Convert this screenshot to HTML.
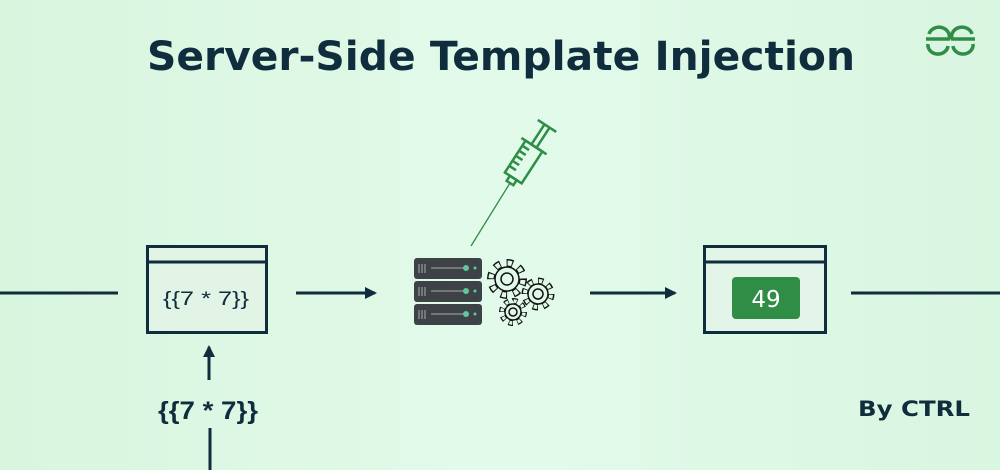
<!DOCTYPE html>
<html><head><meta charset="utf-8"><style>
html,body{margin:0;padding:0;}
body{width:1000px;height:470px;overflow:hidden;background:linear-gradient(90deg,#d8f5de,#e2faea 50%,#d9f6e1);}
svg{display:block}
</style></head><body>
<svg width="1000" height="470" viewBox="0 0 1000 470" xmlns="http://www.w3.org/2000/svg">
<defs><marker id="ah" markerWidth="12" markerHeight="12" refX="10" refY="6" orient="auto" markerUnits="userSpaceOnUse" viewBox="0 0 12 12"><path d="M0,0 L12,6 L0,12 Z" fill="#0f2d3d"/></marker></defs>
<text x="501" y="70" text-anchor="middle" textLength="708" lengthAdjust="spacingAndGlyphs" font-family="DejaVu Sans,Liberation Sans,sans-serif" font-weight="bold" font-size="40" fill="#0f2d3d">Server-Side Template Injection</text>
<g fill="none" stroke="#2f8d46" stroke-width="3.5">
<path d="M926,39 h24 M949,39 a10,9 0 0 0 -20,-5 M928,44 a10,9 0 0 0 20,2"/>
<path d="M975,39 h-24 M952,39 a10,9 0 0 1 20,-5 M973,44 a10,9 0 0 1 -20,2"/>
</g>
<g stroke="#0f2d3d" stroke-width="3" fill="none">
<line x1="0" y1="293" x2="118" y2="293"/>
<line x1="296" y1="293" x2="375" y2="293" marker-end="url(#ah)"/>
<line x1="590" y1="293" x2="675" y2="293" marker-end="url(#ah)"/>
<line x1="851" y1="293" x2="1000" y2="293"/>
<line x1="209" y1="380" x2="209" y2="347" marker-end="url(#ah)"/>
<line x1="210" y1="428" x2="210" y2="470"/>
</g>
<rect x="147.5" y="246.5" width="119" height="86" fill="#e2f4e6" stroke="#0f2d3d" stroke-width="3"/>
<line x1="147" y1="262" x2="267" y2="262" stroke="#0f2d3d" stroke-width="3"/>
<text x="206" y="305" text-anchor="middle" textLength="86" lengthAdjust="spacingAndGlyphs" font-family="Liberation Sans,sans-serif" font-size="19" fill="#0f2d3d">{{7 * 7}}</text>
<text x="208" y="419" text-anchor="middle" textLength="100" lengthAdjust="spacingAndGlyphs" font-family="Liberation Sans,sans-serif" font-size="25" font-weight="bold" fill="#0f2d3d">{{7 * 7}}</text>
<rect x="704.5" y="246.5" width="121" height="86" fill="#e2f5e8" stroke="#0f2d3d" stroke-width="3"/>
<line x1="704" y1="262" x2="826" y2="262" stroke="#0f2d3d" stroke-width="3"/>
<rect x="732" y="277" width="68" height="42" rx="4" fill="#2f8d46"/>
<text x="766" y="307" text-anchor="middle" font-family="DejaVu Sans,sans-serif" font-size="23" fill="#fff">49</text>
<text x="914" y="416" text-anchor="middle" textLength="112" lengthAdjust="spacingAndGlyphs" font-family="DejaVu Sans,sans-serif" font-weight="bold" font-size="21" fill="#0f2d3d">By CTRL</text>
<g>
<rect x="414" y="258" width="68" height="21" rx="3" fill="#3d4247"/>
<rect x="414" y="281" width="68" height="21" rx="3" fill="#3d4247"/>
<rect x="414" y="304" width="68" height="21" rx="3" fill="#3d4247"/>
<g stroke="#888" stroke-width="1.5">
<path d="M419,264v9M422,264v9M425,264v9M419,287v9M422,287v9M425,287v9M419,310v9M422,310v9M425,310v9"/>
<path d="M431,268h34M431,291h34M431,314h34"/></g>
<g fill="#5fc79a"><circle cx="466" cy="268" r="3"/><circle cx="466" cy="291" r="3"/><circle cx="466" cy="314" r="3"/><circle cx="475" cy="268" r="1.5"/><circle cx="475" cy="291" r="1.5"/><circle cx="475" cy="314" r="1.5"/></g>
</g>
<g fill="none">
<g transform="translate(507,279)">
<circle r="16" stroke="#111" stroke-width="8" pathLength="80" stroke-dasharray="5 5"/>
<circle r="16" stroke="#e0f8e8" stroke-width="5" pathLength="80" stroke-dasharray="3.4 6.6" stroke-dashoffset="-0.8"/>
<circle r="12" stroke="#111" stroke-width="1.5" fill="#e0f8e8"/><circle r="6" stroke="#111" stroke-width="1.5"/></g>
<g transform="translate(538,294)">
<circle r="13" stroke="#111" stroke-width="7" pathLength="80" stroke-dasharray="5 5"/>
<circle r="13" stroke="#e0f8e8" stroke-width="4" pathLength="80" stroke-dasharray="3.4 6.6" stroke-dashoffset="-0.8"/>
<circle r="10" stroke="#111" stroke-width="1.5" fill="#e0f8e8"/><circle r="5" stroke="#111" stroke-width="1.5"/></g>
<g transform="translate(513,312)">
<circle r="11" stroke="#111" stroke-width="6" pathLength="80" stroke-dasharray="5 5"/>
<circle r="11" stroke="#e0f8e8" stroke-width="3.5" pathLength="80" stroke-dasharray="3.4 6.6" stroke-dashoffset="-0.8"/>
<circle r="8" stroke="#111" stroke-width="1.5" fill="#e0f8e8"/><circle r="4" stroke="#111" stroke-width="1.5"/></g>
</g>
<line x1="471" y1="246" x2="510" y2="183" stroke="#2f8d46" stroke-width="1.3"/>
<g transform="translate(510,183) rotate(33)" fill="none" stroke="#2f8d46" stroke-width="2.5">
<path d="M-4,0 h8 v-6 h-8 z"/>
<rect x="-10" y="-44" width="20" height="38"/>
<path d="M-15,-44 h30 M-3,-44 v-24 M3,-44 v-24 M-11,-68 h22 M-10,-14 h8 M-10,-20 h8 M-10,-26 h8 M-10,-32 h8 M-10,-38 h8"/>
</g>
</svg>
</body></html>
